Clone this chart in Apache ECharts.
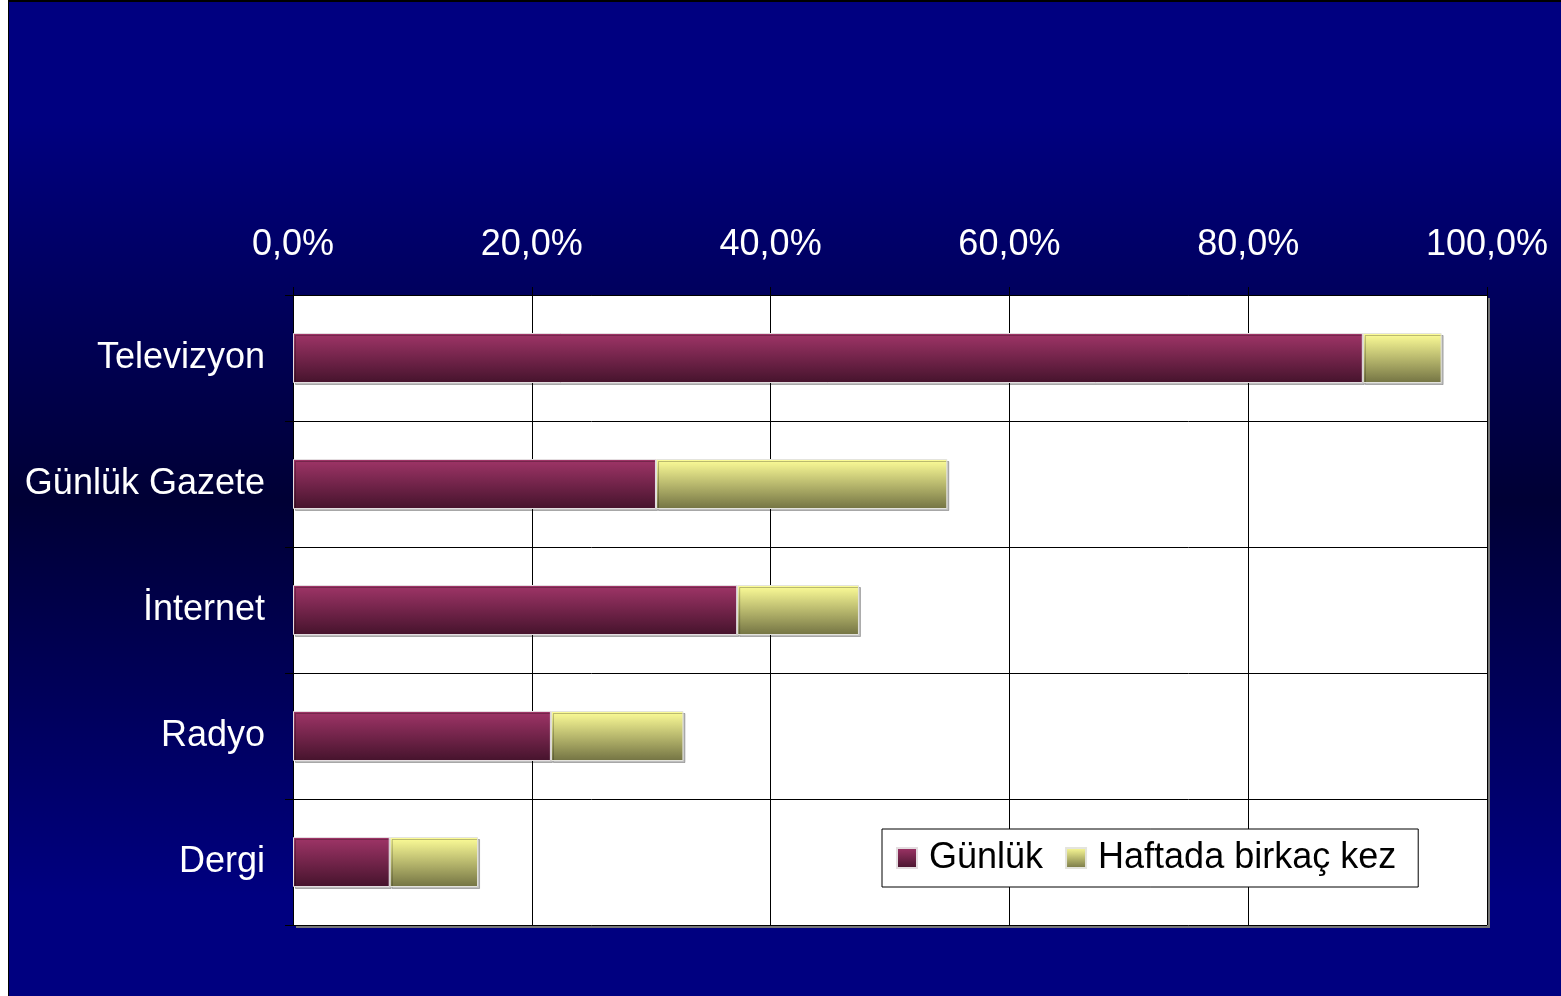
<!DOCTYPE html>
<html>
<head>
<meta charset="utf-8">
<script src="https://cdn.jsdelivr.net/npm/echarts@6/dist/echarts.min.js"></script>
<style>
  html, body { margin: 0; padding: 0; background: #fff; }
  #chart {
    position: absolute;
    left: 8px;
    top: 0;
    width: 1553px;
    height: 996px;
    box-sizing: border-box;
    border-left: 1px solid #000;
    border-top: 2px solid #000;
  }
</style>
</head>
<body>
<div id="chart"></div>
<script>
// kategoriler (yukaridan asagiya)
const categories = ['Televizyon', 'Günlük Gazete', 'İnternet', 'Radyo', 'Dergi']
const seriesNames = ['Günlük', 'Haftada birkaç kez']
// yuzde degerleri
const gunluk = [89.6, 30.4, 37.2, 21.6, 8.1]
const haftada = [6.6, 24.4, 10.2, 11.1, 7.4]
const xTicks = [0, 20, 40, 60, 80, 100]

const font = '"Liberation Sans", Arial, sans-serif'

const vGrad = (top, bottom) => new echarts.graphic.LinearGradient(0, 0, 0, 1, [
  { offset: 0, color: top },
  { offset: 1, color: bottom }
])

const chart = echarts.init(document.getElementById('chart'))
chart.setOption({
  backgroundColor: new echarts.graphic.LinearGradient(0, 0, 0, 1, [
    { offset: 0, color: '#000080' },
    { offset: 0.12, color: '#000080' },
    { offset: 0.5, color: '#000035' },
    { offset: 0.9, color: '#000080' },
    { offset: 1, color: '#000080' }
  ]),
  animation: false,
  textStyle: { fontFamily: font },
  grid: {
    left: 284,
    top: 293,
    right: 74,
    bottom: 71,
    show: true,
    backgroundColor: '#fff',
    borderWidth: 0,
    shadowColor: '#777',
    shadowOffsetX: 3,
    shadowOffsetY: 3,
    shadowBlur: 0
  },
  legend: {
    data: seriesNames,
    left: 873,
    top: 827,
    orient: 'horizontal',
    backgroundColor: '#fff',
    borderColor: '#000',
    borderWidth: 1,
    padding: [11, 22, 11, 14],
    itemWidth: 20,
    itemHeight: 20,
    itemGap: 22,
    icon: 'rect',
    textStyle: { color: '#000', fontSize: 36, fontFamily: font, padding: [0, 0, 0, 7] }
  },
  xAxis: {
    type: 'value',
    position: 'top',
    min: xTicks[0],
    max: xTicks[xTicks.length - 1],
    interval: 20,
    axisLine: { show: true, lineStyle: { color: '#000', width: 1 } },
    axisTick: { show: true, length: 8, lineStyle: { color: '#000' } },
    axisLabel: {
      color: '#fff',
      fontSize: 36,
      margin: 32,
      formatter: (v) => v.toFixed(1).replace('.', ',') + '%'
    },
    splitLine: { show: true, lineStyle: { color: '#000', width: 1 } }
  },
  yAxis: {
    type: 'category',
    inverse: true,
    data: categories,
    axisLine: { show: true, lineStyle: { color: '#000', width: 1 } },
    axisTick: { show: true, length: 8, lineStyle: { color: '#000' } },
    axisLabel: { color: '#fff', fontSize: 36, margin: 28, padding: [5, 0, 0, 0] },
    splitLine: { show: true, lineStyle: { color: '#000', width: 1 } }
  },
  series: [
    {
      name: seriesNames[0],
      type: 'bar',
      stack: 'total',
      barWidth: 50,
      data: gunluk,
      itemStyle: {
        color: vGrad('#a03568', '#45132c'),
        borderColor: '#e4dde0',
        borderWidth: 1,
        shadowColor: 'rgba(0,0,0,0.25)',
        shadowOffsetX: 2,
        shadowOffsetY: 2
      }
    },
    {
      name: seriesNames[1],
      type: 'bar',
      stack: 'total',
      barWidth: 50,
      data: haftada,
      itemStyle: {
        color: vGrad('#ffff99', '#737343'),
        borderColor: '#e4e4dd',
        borderWidth: 1,
        shadowColor: 'rgba(0,0,0,0.25)',
        shadowOffsetX: 2,
        shadowOffsetY: 2
      }
    }
  ]
})
</script>
</body>
</html>
